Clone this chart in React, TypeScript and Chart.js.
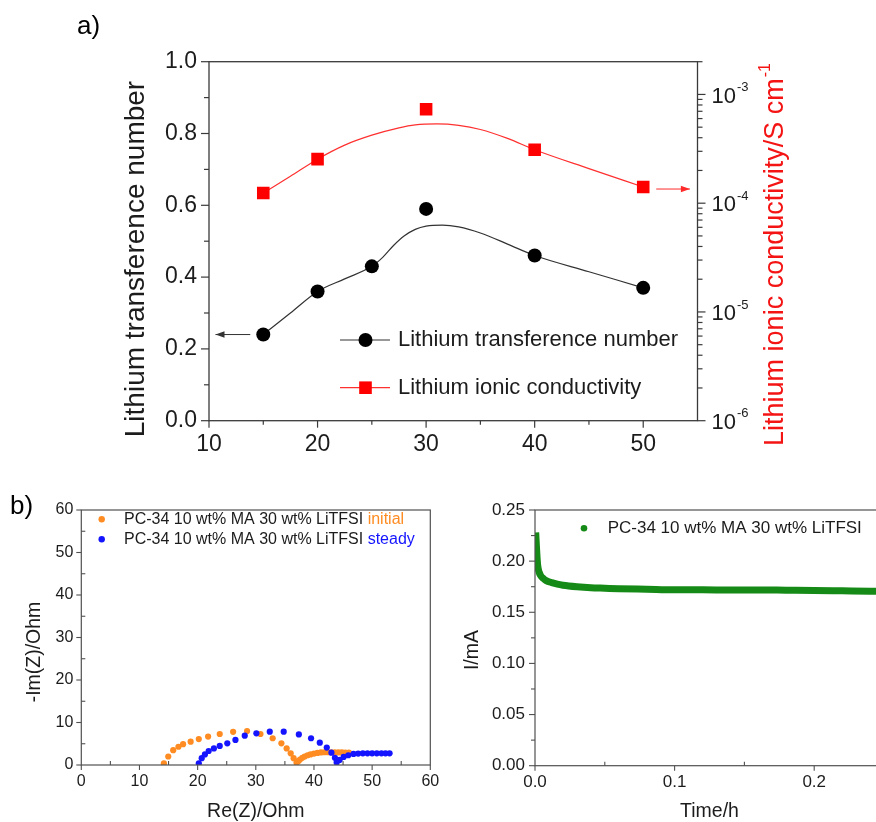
import React, { useEffect, useRef } from 'react';
import { Chart, registerables } from 'chart.js';

Chart.register(...registerables);

const FONT = '"Liberation Sans", Arial, Helvetica, sans-serif';
const TEXT = '#1c1c1c';
const AXIS_A = '#3a3a3a';
const AXIS_B = '#505050';

// ---------- Panel a ----------
const compositions = [15, 20, 25, 30, 40, 50];
const transferenceNumber = [0.24, 0.36, 0.43, 0.59, 0.46, 0.37];
const conductivityX = [15, 20, 30, 40, 50];
const conductivity = [1.24e-4, 2.54e-4, 7.3e-4, 3.1e-4, 1.41e-4];
const transFitX = [15, 17.5, 20, 22.5, 25, 26, 27, 28, 29, 30, 31.5, 33, 35, 37.5, 40, 45, 50];
const transFitY = [0.24, 0.3, 0.36, 0.395, 0.43, 0.455, 0.488, 0.515, 0.533, 0.542, 0.545, 0.54, 0.523, 0.492, 0.46, 0.415, 0.37];
const condFitX = [15, 17.5, 20, 22.5, 25, 27.5, 29, 31, 33, 35, 37.5, 40, 45, 50];
const condFitY = [1.24e-4, 1.77e-4, 2.54e-4, 3.42e-4, 4.22e-4, 4.93e-4, 5.25e-4, 5.36e-4, 5.2e-4, 4.76e-4, 3.94e-4, 3.1e-4, 2.08e-4, 1.41e-4];
const aXTicks = [10, 20, 30, 40, 50];
const aXMinor = [15, 25, 35, 45];
const aYTicks = [0, 0.2, 0.4, 0.6, 0.8, 1.0];
const aYMinor = [0.1, 0.3, 0.5, 0.7, 0.9];
const aLogDecades = [-6, -5, -4, -3];
const aLogMin = 1e-6;
const aLogMax = 2e-3;
const arrowTrans = { from: 13.8, to: 10.6, y: 0.24 };
const arrowCond = { from: 51.2, to: 54.3, y: 1.35e-4 };
const legendA = ['Lithium transference number', 'Lithium ionic conductivity'];

// ---------- Panel b (Nyquist) ----------
const initialRe = [14.2, 14.95, 15.8, 16.7, 17.5, 18.8, 20.2, 21.8, 23.8, 26.1, 28.5, 30.8, 32.9, 34.4, 35.3, 36.0, 36.5, 37.0, 37.3, 37.6, 38.0, 38.4, 38.9, 39.4, 40.0, 40.6, 41.2, 41.8, 42.4, 43.0, 43.6, 44.2, 44.8, 45.4, 46.0];
const initialIm = [0.4, 2.0, 3.5, 4.3, 4.9, 5.5, 6.1, 6.7, 7.3, 7.8, 8.0, 7.3, 6.3, 5.1, 3.9, 2.75, 1.6, 0.55, 0.9, 1.3, 1.7, 2.0, 2.3, 2.5, 2.7, 2.85, 2.95, 3.0, 3.0, 3.0, 3.0, 2.95, 2.95, 2.9, 2.9];
const steadyRe = [20.2, 20.7, 21.25, 21.9, 22.8, 23.8, 25.1, 26.5, 28.1, 30.1, 32.4, 34.8, 37.4, 39.5, 41.0, 42.2, 43.0, 43.6, 43.9, 44.4, 45.1, 45.9, 46.8, 47.6, 48.4, 49.2, 50.0, 50.8, 51.6, 52.3, 53.0];
const steadyIm = [0.4, 1.6, 2.5, 3.3, 3.9, 4.5, 5.1, 5.9, 6.9, 7.45, 7.85, 7.85, 7.2, 6.3, 5.25, 4.1, 2.9, 1.7, 0.6, 1.2, 1.9, 2.3, 2.6, 2.7, 2.75, 2.75, 2.75, 2.75, 2.75, 2.75, 2.75];
const nyTicks = [0, 10, 20, 30, 40, 50, 60];
const nyMinor = [5, 15, 25, 35, 45, 55];
const sampleName = 'PC-34 10 wt% MA 30 wt% LiTFSI';
const nyStates = ['initial', 'steady'];

// ---------- Panel b (chronoamperometry) ----------
const chronoT = [0.0005, 0.001, 0.0015, 0.002, 0.003, 0.004, 0.006, 0.008, 0.012, 0.016, 0.02, 0.03, 0.04, 0.05, 0.06, 0.08, 0.1, 0.12, 0.14, 0.16, 0.18, 0.2, 0.22, 0.24, 0.26];
const chronoI = [0.228, 0.215, 0.203, 0.195, 0.189, 0.186, 0.183, 0.181, 0.179, 0.1775, 0.1765, 0.175, 0.174, 0.1735, 0.173, 0.1725, 0.172, 0.172, 0.1718, 0.1718, 0.1716, 0.1714, 0.171, 0.1706, 0.1703];
const chXTicks = [0, 0.1, 0.2];
const chXMinor = [0.05, 0.15, 0.25];
const chYTicks = [0, 0.05, 0.1, 0.15, 0.2, 0.25];
const chYMinor = [0.025, 0.075, 0.125, 0.175, 0.225];

Chart.defaults.font.family = FONT;
Chart.defaults.color = TEXT;

type TickSpec = { scale: string; values: number[]; len: number; dir: 'out' | 'in' };

function drawTicks(chart: any, specs: TickSpec[], color: string, width: number) {
  const ctx = chart.ctx;
  const a = chart.chartArea;
  ctx.save();
  ctx.strokeStyle = color;
  ctx.lineWidth = width;
  specs.forEach((t) => {
    const s = chart.scales[t.scale];
    const sign = t.dir === 'out' ? 1 : -1;
    t.values.forEach((v) => {
      const p = s.getPixelForValue(v);
      ctx.beginPath();
      if (s.position === 'left') {
        ctx.moveTo(a.left, p);
        ctx.lineTo(a.left - sign * t.len, p);
      } else if (s.position === 'right') {
        ctx.moveTo(a.right, p);
        ctx.lineTo(a.right + sign * t.len, p);
      } else {
        ctx.moveTo(p, a.bottom);
        ctx.lineTo(p, a.bottom + sign * t.len);
      }
      ctx.stroke();
    });
  });
  ctx.restore();
}

function drawFrame(chart: any, color: string, width: number) {
  const ctx = chart.ctx;
  const a = chart.chartArea;
  ctx.save();
  ctx.strokeStyle = color;
  ctx.lineWidth = width;
  ctx.strokeRect(a.left, a.top, a.right - a.left, a.bottom - a.top);
  ctx.restore();
}

function txt(ctx: any, s: string, x: number, y: number, size: number, color: string, align = 'center', baseline = 'middle', rotate = 0) {
  ctx.save();
  ctx.translate(x, y);
  if (rotate) ctx.rotate(rotate);
  ctx.font = `${size}px ${FONT}`;
  ctx.fillStyle = color;
  ctx.textAlign = align;
  ctx.textBaseline = baseline;
  ctx.fillText(s, 0, 0);
  ctx.restore();
}

function arrow(ctx: any, x1: number, y1: number, x2: number, y2: number, color: string) {
  ctx.save();
  ctx.strokeStyle = color;
  ctx.fillStyle = color;
  ctx.lineWidth = 1;
  ctx.beginPath();
  ctx.moveTo(x1, y1);
  ctx.lineTo(x2, y2);
  ctx.stroke();
  const dir = Math.sign(x2 - x1);
  ctx.beginPath();
  ctx.moveTo(x2, y2);
  ctx.lineTo(x2 - dir * 9, y2 - 3.2);
  ctx.lineTo(x2 - dir * 9, y2 + 3.2);
  ctx.closePath();
  ctx.fill();
  ctx.restore();
}

const fixTicks = (vals: number[]) => (s: any) => {
  s.ticks = vals.map((v) => ({ value: v }));
};

function buildA() {
  const logMinor: number[] = [];
  aLogDecades.forEach((d) => {
    for (let k = 2; k <= 9; k++) {
      const v = k * Math.pow(10, d);
      if (v <= aLogMax) logMinor.push(v);
    }
  });
  const decor = {
    id: 'decorA',
    afterDraw(chart: any) {
      const ctx = chart.ctx;
      const a = chart.chartArea;
      const { x, y, y2 } = chart.scales;
      drawFrame(chart, AXIS_A, 1.3);
      drawTicks(
        chart,
        [
          { scale: 'x', values: aXTicks, len: 7, dir: 'out' },
          { scale: 'x', values: aXMinor, len: 4, dir: 'out' },
          { scale: 'y', values: aYTicks, len: 8, dir: 'out' },
          { scale: 'y', values: aYMinor, len: 5, dir: 'out' },
          { scale: 'y2', values: aLogDecades.map((d) => Math.pow(10, d)), len: 8, dir: 'out' },
          { scale: 'y2', values: logMinor, len: 5, dir: 'out' },
        ],
        AXIS_A,
        1.2
      );
      // log tick labels with superscripts
      ctx.save();
      aLogDecades.forEach((d) => {
        const p = y2.getPixelForValue(Math.pow(10, d));
        const x0 = a.right + 14;
        ctx.font = `22px ${FONT}`;
        ctx.fillStyle = TEXT;
        ctx.textAlign = 'left';
        ctx.textBaseline = 'middle';
        ctx.fillText('10', x0, p + 2);
        const w = ctx.measureText('10').width;
        ctx.font = `13px ${FONT}`;
        ctx.fillText(String(d), x0 + w + 1, p - 7);
      });
      ctx.restore();
      // arrows
      arrow(ctx, x.getPixelForValue(arrowTrans.from), y.getPixelForValue(arrowTrans.y), x.getPixelForValue(arrowTrans.to), y.getPixelForValue(arrowTrans.y), '#333333');
      arrow(ctx, x.getPixelForValue(arrowCond.from), y2.getPixelForValue(arrowCond.y), x.getPixelForValue(arrowCond.to), y2.getPixelForValue(arrowCond.y), '#ff2a2a');
      // legend
      ctx.save();
      const rows = [
        { y: 340, color: '#333333', fill: '#000000', shape: 'circle' },
        { y: 387.7, color: '#ff3030', fill: '#ff0000', shape: 'rect' },
      ];
      rows.forEach((r, i) => {
        ctx.strokeStyle = r.color;
        ctx.lineWidth = 1.2;
        ctx.beginPath();
        ctx.moveTo(340, r.y);
        ctx.lineTo(390, r.y);
        ctx.stroke();
        ctx.fillStyle = r.fill;
        if (r.shape === 'circle') {
          ctx.beginPath();
          ctx.arc(365.5, r.y, 7, 0, Math.PI * 2);
          ctx.fill();
        } else {
          ctx.fillRect(365.5 - 6.3, r.y - 6.3, 12.6, 12.6);
        }
        txt(ctx, legendA[i], 398, r.y, 22, TEXT, 'left', 'middle');
      });
      ctx.restore();
      // titles
      txt(ctx, 'Lithium transference number', 136, 259, 28, TEXT, 'center', 'middle', -Math.PI / 2);
      ctx.save();
      ctx.translate(776, 254.5);
      ctx.rotate(-Math.PI / 2);
      const main = 'Lithium ionic conductivity/S cm';
      ctx.font = `27px ${FONT}`;
      const w1 = ctx.measureText(main).width;
      ctx.font = `16px ${FONT}`;
      const w2 = ctx.measureText('-1').width;
      const start = -(w1 + w2 + 1) / 2;
      ctx.fillStyle = '#f41414';
      ctx.textAlign = 'left';
      ctx.textBaseline = 'middle';
      ctx.font = `27px ${FONT}`;
      ctx.fillText(main, start, 0);
      ctx.font = `16px ${FONT}`;
      ctx.fillText('-1', start + w1 + 1, -10);
      ctx.restore();
      txt(ctx, 'a)', 77, 34, 26, '#000000', 'left', 'alphabetic');
    },
  };
  return {
    type: 'line',
    data: {
      datasets: [
        {
          data: compositions.map((c, i) => ({ x: c, y: transferenceNumber[i] })),
          yAxisID: 'y',
          showLine: false,
          pointStyle: 'circle',
          pointRadius: 7,
          pointBackgroundColor: '#000000',
          pointBorderWidth: 0,
        },
        {
          data: conductivityX.map((c, i) => ({ x: c, y: conductivity[i] })),
          yAxisID: 'y2',
          showLine: false,
          pointStyle: 'rect',
          pointRadius: 8.9,
          pointBackgroundColor: '#ff0000',
          pointBorderWidth: 0,
        },
        {
          data: transFitX.map((c, i) => ({ x: c, y: transFitY[i] })),
          yAxisID: 'y',
          borderColor: '#333333',
          borderWidth: 1.2,
          pointRadius: 0,
          cubicInterpolationMode: 'monotone',
        },
        {
          data: condFitX.map((c, i) => ({ x: c, y: condFitY[i] })),
          yAxisID: 'y2',
          borderColor: '#ff3030',
          borderWidth: 1.2,
          pointRadius: 0,
          cubicInterpolationMode: 'monotone',
        },
      ],
    },
    options: {
      animation: false,
      responsive: false,
      events: [],
      layout: { padding: { top: 61.7, left: 0, right: 0, bottom: 0 } },
      plugins: { legend: { display: false }, tooltip: { enabled: false } },
      scales: {
        x: {
          type: 'linear',
          min: 10,
          max: 55,
          afterBuildTicks: fixTicks(aXTicks),
          afterFit: (s: any) => { s.height = 49.3; },
          grid: { display: false, drawTicks: false },
          border: { display: false },
          ticks: { font: { size: 23 }, color: TEXT, padding: 10.5, maxRotation: 0, autoSkip: false, callback: (v: any) => String(v) },
        },
        y: {
          type: 'linear',
          position: 'left',
          min: 0,
          max: 1,
          afterBuildTicks: fixTicks(aYTicks),
          afterFit: (s: any) => { s.width = 209; },
          grid: { display: false, drawTicks: false },
          border: { display: false },
          ticks: { font: { size: 23 }, color: TEXT, padding: 12, autoSkip: false, callback: (v: any) => Number(v).toFixed(1) },
        },
        y2: {
          type: 'logarithmic',
          position: 'right',
          min: aLogMin,
          max: aLogMax,
          afterBuildTicks: fixTicks(aLogDecades.map((d) => Math.pow(10, d))),
          afterFit: (s: any) => { s.width = 178.5; },
          grid: { display: false, drawTicks: false },
          border: { display: false },
          ticks: { callback: () => '' },
        },
      },
    },
    plugins: [decor],
  };
}

function buildB1() {
  const decor = {
    id: 'decorB1',
    afterDraw(chart: any) {
      const ctx = chart.ctx;
      const a = chart.chartArea;
      drawFrame(chart, AXIS_B, 1.2);
      drawTicks(
        chart,
        [
          { scale: 'x', values: nyTicks, len: 5, dir: 'out' },
          { scale: 'x', values: nyMinor, len: 4, dir: 'in' },
          { scale: 'y', values: nyTicks, len: 5, dir: 'out' },
          { scale: 'y', values: nyMinor, len: 4, dir: 'in' },
        ],
        AXIS_B,
        1.1
      );
      const rows = [
        { y: 49.3, color: '#ff8c22' },
        { y: 69.3, color: '#1414ff' },
      ];
      ctx.save();
      rows.forEach((r, i) => {
        ctx.fillStyle = r.color;
        ctx.beginPath();
        ctx.arc(101.7, r.y, 3.2, 0, Math.PI * 2);
        ctx.fill();
        ctx.font = `16px ${FONT}`;
        const label = sampleName + ' ';
        const w = ctx.measureText(label).width;
        txt(ctx, label, 124, r.y, 16, TEXT, 'left', 'middle');
        txt(ctx, nyStates[i], 124 + w, r.y, 16, r.color, 'left', 'middle');
      });
      ctx.restore();
      txt(ctx, '-Im(Z)/Ohm', 35, 182, 19.5, TEXT, 'center', 'middle', -Math.PI / 2);
      txt(ctx, 'Re(Z)/Ohm', (a.left + a.right) / 2, 341.7, 19.5, TEXT, 'center', 'middle');
      txt(ctx, 'b)', 10, 44, 26, '#000000', 'left', 'alphabetic');
    },
  };
  return {
    type: 'line',
    data: {
      datasets: [
        {
          data: steadyRe.map((v, i) => ({ x: v, y: steadyIm[i] })),
          showLine: false,
          pointRadius: 3.1,
          pointBackgroundColor: '#1414ff',
          pointBorderWidth: 0,
        },
        {
          data: initialRe.map((v, i) => ({ x: v, y: initialIm[i] })),
          showLine: false,
          pointRadius: 3.1,
          pointBackgroundColor: '#ff8c22',
          pointBorderWidth: 0,
        },
      ],
    },
    options: {
      animation: false,
      responsive: false,
      events: [],
      layout: { padding: { top: 40, left: 0, right: 19.7, bottom: 0 } },
      plugins: { legend: { display: false }, tooltip: { enabled: false } },
      scales: {
        x: {
          type: 'linear',
          min: 0,
          max: 60,
          afterBuildTicks: fixTicks(nyTicks),
          afterFit: (s: any) => { s.height = 57; },
          grid: { display: false, drawTicks: false },
          border: { display: false },
          ticks: { font: { size: 16 }, color: TEXT, padding: 7, maxRotation: 0, autoSkip: false, callback: (v: any) => String(v) },
        },
        y: {
          type: 'linear',
          min: 0,
          max: 60,
          afterBuildTicks: fixTicks(nyTicks),
          afterFit: (s: any) => { s.width = 81.3; },
          grid: { display: false, drawTicks: false },
          border: { display: false },
          ticks: { font: { size: 16 }, color: TEXT, padding: 8, autoSkip: false, callback: (v: any) => String(v) },
        },
      },
    },
    plugins: [decor],
  };
}

function buildB2() {
  const decor = {
    id: 'decorB2',
    afterDraw(chart: any) {
      const ctx = chart.ctx;
      const a = chart.chartArea;
      drawFrame(chart, AXIS_B, 1.2);
      drawTicks(
        chart,
        [
          { scale: 'x', values: chXTicks, len: 5, dir: 'out' },
          { scale: 'x', values: chXMinor, len: 4, dir: 'in' },
          { scale: 'y', values: chYTicks, len: 6, dir: 'out' },
          { scale: 'y', values: chYMinor, len: 4, dir: 'out' },
        ],
        AXIS_B,
        1.1
      );
      ctx.save();
      ctx.fillStyle = '#168a16';
      ctx.beginPath();
      ctx.arc(134, 58.3, 3.3, 0, Math.PI * 2);
      ctx.fill();
      ctx.restore();
      txt(ctx, sampleName, 157.7, 58.3, 17, TEXT, 'left', 'middle');
      txt(ctx, 'I/mA', 23, 180, 19.5, TEXT, 'center', 'middle', -Math.PI / 2);
      txt(ctx, 'Time/h', (a.left + a.right) / 2, 341.7, 19.5, TEXT, 'center', 'middle');
    },
  };
  return {
    type: 'line',
    data: {
      datasets: [
        {
          data: chronoT.map((t, i) => ({ x: t, y: chronoI[i] })),
          borderColor: '#168a16',
          borderWidth: 7,
          pointRadius: 0,
          cubicInterpolationMode: 'monotone',
        },
      ],
    },
    options: {
      animation: false,
      responsive: false,
      events: [],
      layout: { padding: { top: 40, left: 0, right: 16, bottom: 0 } },
      plugins: { legend: { display: false }, tooltip: { enabled: false } },
      scales: {
        x: {
          type: 'linear',
          min: 0,
          max: 0.25,
          afterBuildTicks: fixTicks(chXTicks),
          afterFit: (s: any) => { s.height = 56.3; },
          grid: { display: false, drawTicks: false },
          border: { display: false },
          ticks: { font: { size: 17 }, color: TEXT, padding: 6, maxRotation: 0, autoSkip: false, callback: (v: any) => Number(v).toFixed(1) },
        },
        y: {
          type: 'linear',
          min: 0,
          max: 0.25,
          afterBuildTicks: fixTicks(chYTicks),
          afterFit: (s: any) => { s.width = 85; },
          grid: { display: false, drawTicks: false },
          border: { display: false },
          ticks: { font: { size: 17 }, color: TEXT, padding: 10, autoSkip: false, callback: (v: any) => Number(v).toFixed(2) },
        },
      },
    },
    plugins: [decor],
  };
}

function ChartCanvas({ left, top, width, height, build }: any) {
  const ref = useRef<HTMLCanvasElement>(null);
  useEffect(() => {
    const chart = new Chart(ref.current as HTMLCanvasElement, build() as any);
    return () => chart.destroy();
  }, []);
  return (
    <canvas
      ref={ref}
      width={width}
      height={height}
      style={{ position: 'absolute', left, top, width, height, display: 'block' }}
    />
  );
}

export default function App() {
  return (
    <div style={{ position: 'fixed', left: 0, top: 0, width: 876, height: 822, overflow: 'hidden', background: '#ffffff' }}>
      <ChartCanvas left={0} top={0} width={876} height={470} build={buildA} />
      <ChartCanvas left={0} top={470} width={450} height={352} build={buildB1} />
      <ChartCanvas left={450} top={470} width={450} height={352} build={buildB2} />
    </div>
  );
}
